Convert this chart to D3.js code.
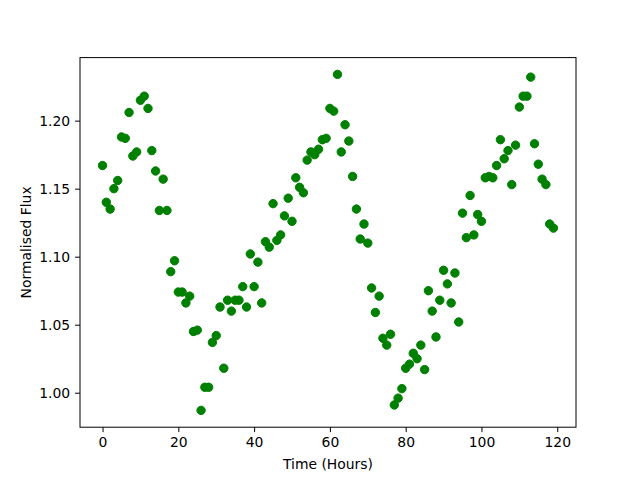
<!DOCTYPE html>
<html>
<head>
<meta charset="utf-8">
<script src="https://cdn.jsdelivr.net/npm/d3@7/dist/d3.min.js"></script>
<style>
  body { margin: 0; background: #fff; }
  svg { display: block; font-family: "DejaVu Sans", sans-serif; }
</style>
</head>
<body>
<svg id="chart" width="640" height="480"></svg>
<script>
// hours since start of observation
var hours = d3.range(0, 120);

// normalised flux
var flux = [
  1.167, 1.140, 1.135, 1.150, 1.156, 1.188, 1.187, 1.206, 1.174, 1.177,
  1.215, 1.218, 1.209, 1.178, 1.163, 1.134, 1.157, 1.134, 1.089, 1.097,
  1.074, 1.074, 1.066, 1.071, 1.045, 1.046, 0.987, 1.004, 1.004, 1.037,
  1.042, 1.063, 1.018, 1.068, 1.060, 1.068, 1.068, 1.078, 1.063, 1.102,
  1.078, 1.096, 1.066, 1.111, 1.107, 1.139, 1.112, 1.116, 1.130, 1.143,
  1.126, 1.158, 1.151, 1.147, 1.171, 1.177, 1.175, 1.179, 1.186, 1.187,
  1.209, 1.207, 1.234, 1.177, 1.197, 1.185, 1.159, 1.135, 1.113, 1.124,
  1.110, 1.077, 1.059, 1.071, 1.040, 1.035, 1.043, 0.991, 0.996, 1.003,
  1.018, 1.021, 1.029, 1.025, 1.035, 1.017, 1.075, 1.060, 1.041, 1.068,
  1.090, 1.080, 1.066, 1.088, 1.052, 1.132, 1.114, 1.145, 1.116, 1.131,
  1.126, 1.158, 1.159, 1.158, 1.167, 1.186, 1.172, 1.178, 1.153, 1.182,
  1.210, 1.218, 1.218, 1.232, 1.183, 1.168, 1.157, 1.153, 1.124, 1.121
];

var xTicks = [0, 20, 40, 60, 80, 100, 120];
var yTicks = [1.00, 1.05, 1.10, 1.15, 1.20];

var points = hours.map((h, i) => ({ t: h, f: flux[i] }));

var margin = { left: 80, right: 64, top: 57.6, bottom: 52.8 };
var width = 640 - margin.left - margin.right;
var height = 480 - margin.top - margin.bottom;

// matplotlib style 5% padding around the data
function pad (ext) {
  var d = (ext[1] - ext[0]) * 0.05;
  return [ext[0] - d, ext[1] + d];
}

var x = d3.scaleLinear().domain(pad(d3.extent(hours))).range([0, width]);
var y = d3.scaleLinear().domain(pad(d3.extent(flux))).range([height, 0]);

var svg = d3.select('#chart');
var g = svg.append('g').attr('transform', 'translate(' + margin.left + ',' + margin.top + ')');

g.selectAll('circle')
  .data(points)
  .enter().append('circle')
    .attr('cx', d => x(d.t))
    .attr('cy', d => y(d.f))
    .attr('r', 4.2)
    .attr('fill', '#008000')
    .attr('stroke', '#008000')
    .attr('stroke-width', 1);

var xAxis = g.append('g')
  .attr('transform', 'translate(0,' + height + ')')
  .call(d3.axisBottom(x).tickValues(xTicks).tickSize(4.9).tickPadding(4.9).tickFormat(d3.format('d')));

var yAxis = g.append('g')
  .call(d3.axisLeft(y).tickValues(yTicks).tickSize(4.9).tickPadding(4.9).tickFormat(d3.format('.2f')));

[xAxis, yAxis].forEach(a => {
  a.select('.domain').remove();
  a.selectAll('text').attr('font-size', 13.9).attr('fill', '#000').attr('font-family', '"DejaVu Sans", sans-serif');
  a.selectAll('line').attr('stroke', '#000').attr('stroke-width', 1);
});

g.append('rect')
  .attr('width', width)
  .attr('height', height)
  .attr('fill', 'none')
  .attr('stroke', '#000')
  .attr('stroke-width', 1);

svg.append('text')
  .attr('x', margin.left + width / 2)
  .attr('y', 469)
  .attr('text-anchor', 'middle')
  .attr('font-size', 13.9)
  .text('Time (Hours)');

svg.append('text')
  .attr('transform', 'translate(31,' + (margin.top + height / 2) + ') rotate(-90)')
  .attr('text-anchor', 'middle')
  .attr('font-size', 13.9)
  .text('Normalised Flux');
</script>
</body>
</html>
